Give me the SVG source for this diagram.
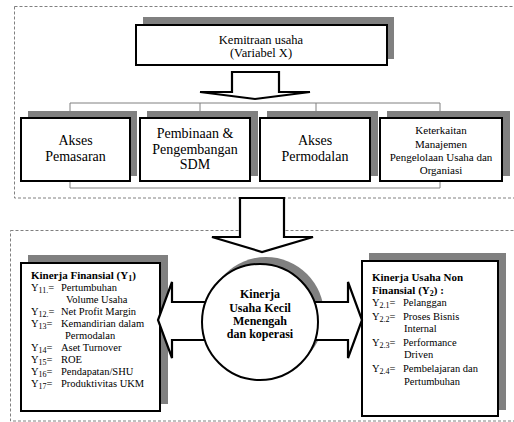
<svg xmlns="http://www.w3.org/2000/svg" width="514" height="422" viewBox="0 0 514 422" font-family="'Liberation Serif', serif">
<defs>
<style>
.dash{fill:none;stroke:#808080;stroke-width:1;stroke-dasharray:3 2}
.sh{fill:#808080}
.bx{fill:#fff;stroke:#000;stroke-width:2}
.ba{fill:#fff;stroke:#000;stroke-width:2.2;stroke-linejoin:miter}
.t{fill:#000}
.c{text-anchor:middle}
.f14{font-size:14px}
.f13{font-size:12.5px}
.f12{font-size:12px}
.f11{font-size:11px}
.f10{font-size:10.5px}
.b{font-weight:bold}
.con{fill:none;stroke:#808080;stroke-width:1}
</style>
<marker id="ah" viewBox="0 0 6 6" refX="3" refY="6" markerWidth="6" markerHeight="6" orient="auto-start-reverse" markerUnits="userSpaceOnUse">
<path d="M0,0 L6,0 L3,6 Z" fill="#000"/>
</marker>
</defs>
<rect x="0" y="0" width="514" height="422" fill="#fff"/>
<rect class="dash" x="14.5" y="6.5" width="510" height="191.5"/>
<rect class="dash" x="10.5" y="230.5" width="510" height="190.5"/>

<g id="title">
<rect class="sh" x="143" y="17" width="251" height="42"/>
<rect class="bx" x="136" y="25" width="251" height="40"/>
<text class="t c f13" x="261" y="43.5">Kemitraan usaha</text>
<text class="t c f13" x="261" y="57">(Variabel X)</text>
</g>

<g id="arrow1">
<path class="ba" d="M232,72 H279 V92 H310 L255,99 L200,92 H232 Z"/>
</g>

<g id="connectors">
<path class="con" d="M70,103 H440"/>
<path class="con" d="M70,103 V117" marker-end="url(#ah)"/>
<path class="con" d="M200,103 V117" marker-end="url(#ah)"/>
<path class="con" d="M316,103 V117" marker-end="url(#ah)"/>
<path class="con" d="M440,103 V117" marker-end="url(#ah)"/>
<path class="con" d="M70,181 V188 H440 V181"/>
</g>

<g id="akses-pemasaran">
<rect class="sh" x="28" y="111" width="109" height="65"/>
<rect class="bx" x="21" y="118" width="109" height="63"/>
<text class="t c f14" x="75.5" y="145">Akses</text>
<text class="t c f14" x="75.5" y="161">Pemasaran</text>
</g>
<g id="pembinaan">
<rect class="sh" x="147" y="111" width="111" height="65"/>
<rect class="bx" x="140" y="118" width="110" height="63"/>
<text class="t c f14" x="195" y="138">Pembinaan &amp;</text>
<text class="t c f14" x="195" y="154">Pengembangan</text>
<text class="t c f14" x="195" y="169">SDM</text>
</g>
<g id="akses-permodalan">
<rect class="sh" x="267" y="111" width="111" height="65"/>
<rect class="bx" x="260" y="118" width="110" height="63"/>
<text class="t c f14" x="315" y="145">Akses</text>
<text class="t c f14" x="315" y="161">Permodalan</text>
</g>
<g id="keterkaitan">
<rect class="sh" x="387" y="111" width="123" height="65"/>
<rect class="bx" x="380" y="118" width="122" height="63"/>
<text class="t c f11" x="441" y="134">Keterkaitan</text>
<text class="t c f11" x="441" y="147.5">Manajemen</text>
<text class="t c f11" x="441" y="161">Pengelolaan Usaha dan</text>
<text class="t c f11" x="441" y="174">Organiasi</text>
</g>

<g id="arrow2">
<path class="ba" d="M240,198 H284 V237 H313 L262,252 L212,237 H240 Z"/>
</g>

<g id="kinerja-finansial">
<rect class="sh" x="28" y="255" width="140" height="149"/>
<rect class="bx" x="21" y="263" width="139" height="148"/>
<text class="t f11 b" x="31" y="278.5">Kinerja Finansial (Y<tspan font-size="8" dy="2">1</tspan><tspan dy="-2">)</tspan></text>
<text class="t f10" x="31" y="290.5">Y<tspan font-size="8" dy="2">11.</tspan><tspan dy="-2">=</tspan></text><text class="t f10" x="61" y="290.5">Pertumbuhan</text>
<text class="t f10" x="66" y="302.5">Volume Usaha</text>
<text class="t f10" x="31" y="314.5">Y<tspan font-size="8" dy="2">12.</tspan><tspan dy="-2">=</tspan></text><text class="t f10" x="61" y="314.5">Net Profit Margin</text>
<text class="t f10" x="31" y="327">Y<tspan font-size="8" dy="2">13</tspan><tspan dy="-2">=</tspan></text><text class="t f10" x="61" y="327">Kemandirian dalam</text>
<text class="t f10" x="65" y="339">Permodalan</text>
<text class="t f10" x="31" y="351">Y<tspan font-size="8" dy="2">14</tspan><tspan dy="-2">=</tspan></text><text class="t f10" x="61" y="351">Aset Turnover</text>
<text class="t f10" x="31" y="363">Y<tspan font-size="8" dy="2">15</tspan><tspan dy="-2">=</tspan></text><text class="t f10" x="61" y="363">ROE</text>
<text class="t f10" x="31" y="375">Y<tspan font-size="8" dy="2">16</tspan><tspan dy="-2">=</tspan></text><text class="t f10" x="61" y="375">Pendapatan/SHU</text>
<text class="t f10" x="31" y="387">Y<tspan font-size="8" dy="2">17</tspan><tspan dy="-2">=</tspan></text><text class="t f10" x="61" y="387">Produktivitas UKM</text>
</g>

<g id="kinerja-non-finansial">
<rect class="sh" x="369" y="253" width="137" height="157"/>
<rect class="bx" x="362" y="261" width="136" height="155"/>
<text class="t f11 b" x="372" y="281">Kinerja Usaha Non</text>
<text class="t f11 b" x="372" y="294">Finansial (Y<tspan font-size="8" dy="2">2</tspan><tspan dy="-2">) :</tspan></text>
<text class="t f10" x="372" y="306">Y<tspan font-size="8" dy="2">2.1</tspan><tspan dy="-2">=</tspan></text><text class="t f10" x="403" y="306">Pelanggan</text>
<text class="t f10" x="372" y="320">Y<tspan font-size="8" dy="2">2.2</tspan><tspan dy="-2">=</tspan></text><text class="t f10" x="403" y="320">Proses Bisnis</text>
<text class="t f10" x="404" y="332">Internal</text>
<text class="t f10" x="372" y="346">Y<tspan font-size="8" dy="2">2.3</tspan><tspan dy="-2">=</tspan></text><text class="t f10" x="403" y="346">Performance</text>
<text class="t f10" x="404" y="358">Driven</text>
<text class="t f10" x="372" y="372">Y<tspan font-size="8" dy="2">2.4</tspan><tspan dy="-2">=</tspan></text><text class="t f10" x="403" y="372">Pembelajaran dan</text>
<text class="t f10" x="404" y="385">Pertumbuhan</text>
</g>

<g id="kinerja-ukm">
<circle class="sh" cx="266" cy="315" r="58"/>
<path class="ba" d="M210,302 H172 V282 L158,320 L172,358 V340 H210 Z"/>
<path class="ba" d="M310,302 H348 V282 L362,320 L348,358 V340 H310 Z"/>
<circle class="bx" cx="260" cy="322" r="58"/>
<text class="t c f12 b" x="260" y="298">Kinerja</text>
<text class="t c f12 b" x="260" y="312">Usaha Kecil</text>
<text class="t c f12 b" x="260" y="325">Menengah</text>
<text class="t c f12 b" x="260" y="338">dan koperasi</text>
</g>
</svg>
